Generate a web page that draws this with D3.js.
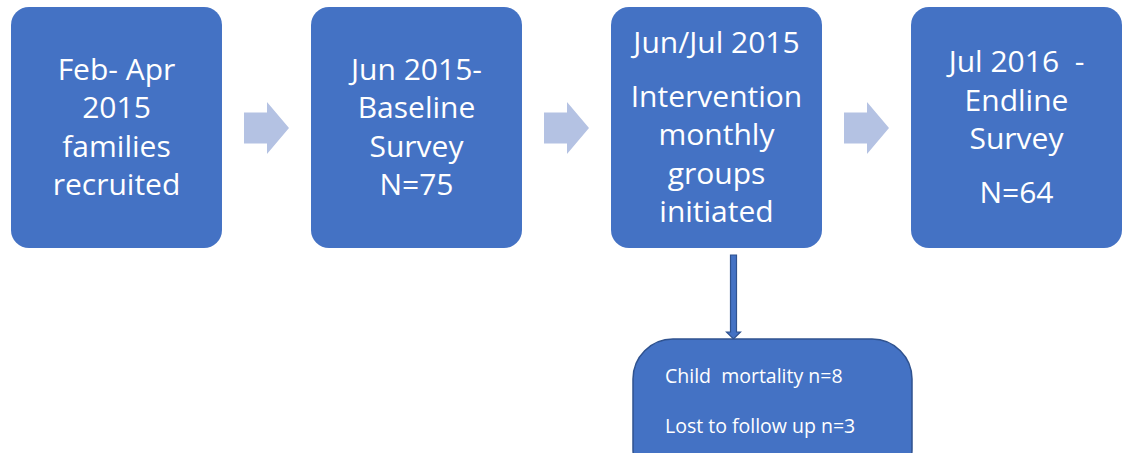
<!DOCTYPE html>
<html>
<head>
<meta charset="utf-8">
<script src="https://cdn.jsdelivr.net/npm/d3@7.9.0/dist/d3.min.js"></script>
<style>
  body { margin: 0; background: #fff; }
  svg { display: block; }
  text { font-family: "Open Sans", Lato, sans-serif; fill: #fff; }
</style>
</head>
<body>
<svg id="chart"></svg>
<script>
// flow stages, each stage is a list of paragraphs, each paragraph a list of lines
const stages = [
  [["Feb- Apr", "2015", "families", "recruited"]],
  [["Jun 2015-", "Baseline", "Survey", "N=75"]],
  [["Jun/Jul 2015"], ["Intervention", "monthly", "groups", "initiated"]],
  [["Jul 2016  -", "Endline", "Survey"], ["N=64"]]
];
// which stage the drop-out box hangs from
const lossStage = 2;
const lossLines = ["Child  mortality n=8", "Lost to follow up n=3"];

const width = 1128, height = 453;
const boxFill = "#4472C4", boxEdge = "#2F528F", arrowFill = "#B4C2E3";

const svg = d3.select("#chart").attr("width", width).attr("height", height);

const x = d3.scaleBand()
  .domain(d3.range(stages.length))
  .range([11, 1122])
  .paddingInner(0.2967)
  .paddingOuter(0);

const boxTop = 7, boxBottom = 248;
const lineH = 38.4, paraGap = 15.5;

// boxes
const g = svg.selectAll("g.stage")
  .data(stages)
  .enter()
  .append("g")
  .attr("class", "stage")
  .attr("transform", (d, i) => `translate(${x(i)},0)`);

g.append("rect")
  .attr("y", boxTop)
  .attr("width", x.bandwidth())
  .attr("height", boxBottom - boxTop)
  .attr("rx", 18)
  .attr("fill", boxFill);

g.each(function(paras) {
  let lines = [];
  paras.forEach((p, pi) => p.forEach((t, li) => lines.push({ t, gap: pi > 0 && li === 0 })));
  let nGaps = paras.length - 1;
  let span = (lines.length - 1) * lineH + nGaps * paraGap;
  let y = 137.5 - span / 2;
  let sel = d3.select(this);
  lines.forEach((l, i) => {
    if (i > 0) y += lineH + (l.gap ? paraGap : 0);
    sel.append("text")
      .attr("x", x.bandwidth() / 2)
      .attr("y", y)
      .attr("text-anchor", "middle")
      .attr("font-size", 30)
      .style("white-space", "pre")
      .text(l.t);
  });
});

// block arrows between boxes
const arrowMid = 128;
d3.range(stages.length - 1).forEach(i => {
  const x0 = x(i) + x.bandwidth() + 22;
  const path = d3.path();
  path.moveTo(x0, arrowMid - 15.5);
  path.lineTo(x0 + 23, arrowMid - 15.5);
  path.lineTo(x0 + 23, arrowMid - 26);
  path.lineTo(x0 + 45, arrowMid);
  path.lineTo(x0 + 23, arrowMid + 26);
  path.lineTo(x0 + 23, arrowMid + 15.5);
  path.lineTo(x0, arrowMid + 15.5);
  path.closePath();
  svg.append("path").attr("d", path.toString()).attr("fill", arrowFill);
});

// down arrow to the drop-out box
const ax = x(lossStage) + x.bandwidth() / 2 + 17;
const dp = d3.path();
dp.moveTo(ax - 3, 255);
dp.lineTo(ax + 3, 255);
dp.lineTo(ax + 3, 332);
dp.lineTo(ax + 7, 332);
dp.lineTo(ax, 339);
dp.lineTo(ax - 7, 332);
dp.lineTo(ax - 3, 332);
dp.closePath();
svg.append("path").attr("d", dp.toString())
  .attr("fill", boxFill).attr("stroke", boxEdge).attr("stroke-width", 1.2);

// drop-out box
const lossX = 633, lossTop = 339;
svg.append("rect")
  .attr("x", lossX)
  .attr("y", lossTop)
  .attr("width", 279)
  .attr("height", 150)
  .attr("rx", 40)
  .attr("fill", boxFill)
  .attr("stroke", boxEdge)
  .attr("stroke-width", 1.5);

svg.selectAll("text.loss")
  .data(lossLines)
  .enter()
  .append("text")
  .attr("class", "loss")
  .attr("x", lossX + 32)
  .attr("y", (d, i) => 383 + i * 50)
  .attr("font-size", 19.5)
  .style("white-space", "pre")
  .text(d => d);
</script>
</body>
</html>
